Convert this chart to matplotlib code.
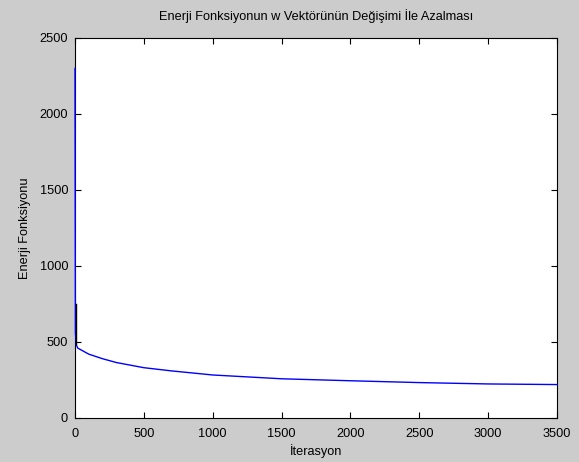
import matplotlib
matplotlib.use("Agg")
import matplotlib.pyplot as plt

# Energy vs iteration (blue series)
iterations = [0, 3, 10, 20, 50, 100, 200, 300, 500, 700, 1000, 1500, 2000, 2500, 3000, 3500]
energy = [2300, 560, 480, 460, 445, 420, 390, 365, 331, 310, 283, 258, 245, 233, 224, 220]

# short black series at the start
black_iter = [5, 5]
black_energy = [750, 490]

x_ticks = [0, 500, 1000, 1500, 2000, 2500, 3000, 3500]
y_ticks = [0, 500, 1000, 1500, 2000, 2500]

title = "Enerji Fonksiyonun w Vektörünün Değişimi İle Azalması"
xlabel = "İterasyon"
ylabel = "Enerji Fonksiyonu"

plt.rcParams['font.family'] = ['Liberation Sans', 'DejaVu Sans']
fs = 9.2

fig = plt.figure(figsize=(5.79, 4.62), dpi=100, facecolor='#cccccc')
ax = fig.add_axes([75/579, 1-418/462, (557-75)/579, (418-38)/462])
ax.set_facecolor('white')
ax.plot(iterations, energy, color='#0000ff', lw=1.0, zorder=3, clip_on=False)
ax.plot(black_iter, black_energy, color='black', lw=1.0, zorder=3)
ax.set_xlim(0, 3500)
ax.set_ylim(0, 2500)
ax.set_xticks(x_ticks)
ax.set_yticks(y_ticks)
ax.tick_params(direction='in', top=True, right=True, labelsize=fs, length=4, width=0.8, colors='black')
ax.tick_params(axis='x', pad=7)
ax.tick_params(axis='y', pad=5)
for s in ax.spines.values():
    s.set_linewidth(0.8)
ax.set_title(title, fontsize=fs, pad=13)
ax.set_xlabel(xlabel, fontsize=fs, labelpad=3)
ax.set_ylabel(ylabel, fontsize=fs, labelpad=6)
fig.savefig("out.png", dpi=100, facecolor=fig.get_facecolor())
